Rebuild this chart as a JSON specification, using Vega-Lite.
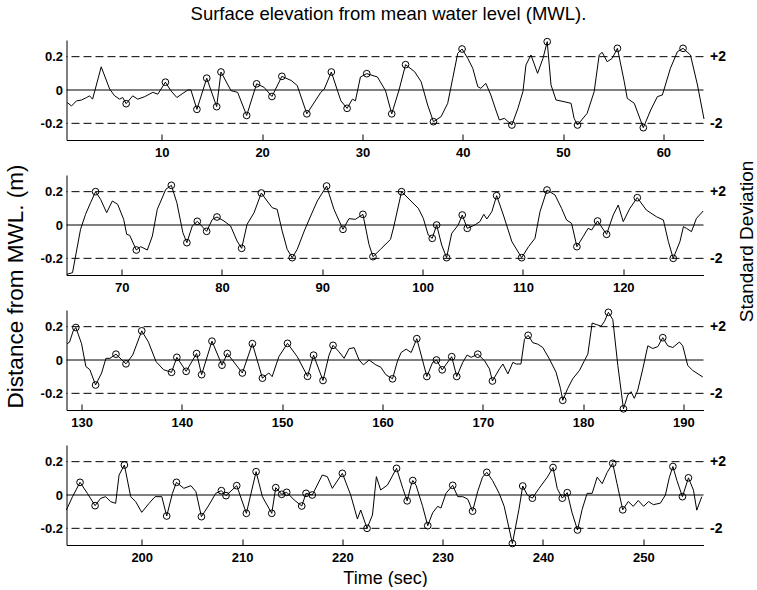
{
  "$schema": "https://vega.github.io/schema/vega-lite/v6.json",
  "background": "white",
  "padding": {"left": 3.5, "top": 4, "right": 0, "bottom": 0},
  "title": {"text": "Surface elevation from mean water level (MWL).", "fontSize": 18.5, "fontWeight": "normal", "font": "Liberation Sans", "anchor": "middle", "offset": 13, "dx": 8, "color": "black"},
  "config": {
    "font": "Liberation Sans",
    "view": {"stroke": null},
    "axis": {"domainColor": "black", "tickColor": "black", "labelColor": "black", "titleColor": "black", "grid": false, "labelFont": "Liberation Sans", "titleFont": "Liberation Sans", "labelFontSize": 13, "labelFontWeight": "bold", "titleFontWeight": "normal"}
  },
  "datasets": {
    "p1": [
      {"t":0.58,"v":-0.075},{"t":1.0,"v":-0.096},{"t":1.5,"v":-0.065},{"t":2.0,"v":-0.06},{"t":2.5,"v":-0.045},{"t":2.8,"v":-0.035},{"t":3.1,"v":-0.055},{"t":3.96,"v":0.139},{"t":4.8,"v":0.006},{"t":5.3,"v":-0.035},{"t":5.8,"v":-0.055},{"t":6.1,"v":-0.045},{"t":6.45,"v":-0.082,"c":1},{"t":7.1,"v":-0.035},{"t":7.6,"v":-0.055},{"t":8.3,"v":-0.04},{"t":9.1,"v":-0.014},{"t":9.6,"v":-0.025},{"t":10.36,"v":0.047,"c":1},{"t":10.9,"v":-0.004},{"t":11.5,"v":-0.045},{"t":12.1,"v":-0.02},{"t":12.6,"v":0.0},{"t":12.9,"v":0.0},{"t":13.5,"v":-0.116,"c":1},{"t":14.48,"v":0.071,"c":1},{"t":15.47,"v":-0.1,"c":1},{"t":15.9,"v":0.108,"c":1},{"t":16.9,"v":-0.004},{"t":17.56,"v":-0.014},{"t":18.46,"v":-0.153,"c":1},{"t":19.45,"v":0.037,"c":1},{"t":20.2,"v":0.016},{"t":20.98,"v":-0.039,"c":1},{"t":21.97,"v":0.082,"c":1},{"t":22.9,"v":0.057},{"t":23.5,"v":0.027},{"t":24.46,"v":-0.143,"c":1},{"t":25.85,"v":-0.014},{"t":26.2,"v":0.006},{"t":26.9,"v":0.108,"c":1},{"t":27.85,"v":-0.065},{"t":28.47,"v":-0.11,"c":1},{"t":29.0,"v":-0.055},{"t":29.3,"v":-0.065},{"t":29.8,"v":0.078},{"t":30.43,"v":0.098,"c":1},{"t":31.5,"v":0.078},{"t":32.3,"v":-0.004},{"t":32.92,"v":-0.143,"c":1},{"t":33.65,"v":0.0},{"t":34.3,"v":0.152,"c":1},{"t":35.2,"v":0.11},{"t":35.85,"v":0.05},{"t":36.5,"v":-0.09},{"t":37.08,"v":-0.19,"c":1},{"t":37.84,"v":-0.16},{"t":38.5,"v":-0.08},{"t":39.0,"v":0.07},{"t":39.5,"v":0.22},{"t":39.93,"v":0.246,"c":1},{"t":40.5,"v":0.19},{"t":41.0,"v":0.13},{"t":41.5,"v":0.02},{"t":41.8,"v":0.01},{"t":42.3,"v":0.04},{"t":42.8,"v":-0.03},{"t":43.3,"v":-0.12},{"t":43.65,"v":-0.18},{"t":44.15,"v":-0.17},{"t":44.9,"v":-0.21,"c":1},{"t":45.5,"v":-0.11},{"t":46.0,"v":-0.01},{"t":46.3,"v":0.15},{"t":46.8,"v":0.21},{"t":47.46,"v":0.1},{"t":48.0,"v":0.19},{"t":48.42,"v":0.29,"c":1},{"t":48.8,"v":0.03},{"t":49.3,"v":-0.06},{"t":50.1,"v":-0.07},{"t":50.8,"v":-0.08},{"t":51.1,"v":-0.17},{"t":51.44,"v":-0.21,"c":1},{"t":52.4,"v":-0.14},{"t":53.1,"v":-0.01},{"t":53.6,"v":0.21},{"t":53.9,"v":0.226},{"t":54.4,"v":0.17},{"t":54.9,"v":0.19},{"t":55.42,"v":0.25,"c":1},{"t":56.1,"v":0.05},{"t":56.4,"v":-0.05},{"t":57.1,"v":-0.08},{"t":58.0,"v":-0.226,"c":1},{"t":58.74,"v":-0.12},{"t":59.4,"v":-0.04},{"t":59.9,"v":-0.03},{"t":60.7,"v":0.13},{"t":61.4,"v":0.23},{"t":61.96,"v":0.25,"c":1},{"t":62.7,"v":0.21},{"t":63.4,"v":0.03},{"t":64.05,"v":-0.174}
    ],
    "p2": [
      {"t":64.52,"v":-0.296},{"t":65.1,"v":-0.286},{"t":65.9,"v":-0.026},{"t":66.4,"v":0.064},{"t":66.9,"v":0.134},{"t":67.4,"v":0.2,"c":1},{"t":67.9,"v":0.154},{"t":68.5,"v":0.074},{"t":69.07,"v":0.144},{"t":69.6,"v":0.124},{"t":70.2,"v":0.034},{"t":70.5,"v":-0.056},{"t":70.8,"v":-0.062},{"t":71.46,"v":-0.15,"c":1},{"t":71.9,"v":-0.13},{"t":72.56,"v":-0.15},{"t":73.06,"v":-0.066},{"t":73.55,"v":0.094},{"t":74.4,"v":0.214},{"t":74.95,"v":0.238,"c":1},{"t":75.5,"v":0.134},{"t":76.1,"v":-0.046},{"t":76.5,"v":-0.106,"c":1},{"t":77.04,"v":-0.006},{"t":77.54,"v":0.022,"c":1},{"t":78.47,"v":-0.038,"c":1},{"t":79.04,"v":0.034},{"t":79.5,"v":0.048,"c":1},{"t":80.2,"v":0.024},{"t":80.86,"v":-0.006},{"t":81.5,"v":-0.096},{"t":81.96,"v":-0.14,"c":1},{"t":82.5,"v":0.004},{"t":83.2,"v":0.074},{"t":83.92,"v":0.192,"c":1},{"t":84.5,"v":0.144},{"t":85.0,"v":0.104},{"t":85.5,"v":0.094},{"t":86.0,"v":-0.036},{"t":86.5,"v":-0.146},{"t":87.0,"v":-0.196,"c":1},{"t":87.5,"v":-0.146},{"t":88.2,"v":-0.036},{"t":88.84,"v":0.054},{"t":89.5,"v":0.144},{"t":90.43,"v":0.234,"c":1},{"t":91.16,"v":0.094},{"t":92.06,"v":-0.026,"c":1},{"t":92.66,"v":0.038},{"t":93.3,"v":0.034},{"t":94.05,"v":0.064,"c":1},{"t":94.65,"v":-0.116},{"t":95.05,"v":-0.19,"c":1},{"t":95.8,"v":-0.146},{"t":96.8,"v":-0.086},{"t":97.14,"v":-0.006},{"t":97.9,"v":0.2,"c":1},{"t":98.74,"v":0.15},{"t":99.57,"v":0.1},{"t":100.07,"v":0.04},{"t":100.56,"v":-0.06},{"t":100.96,"v":-0.08,"c":1},{"t":101.4,"v":0.0,"c":1},{"t":101.9,"v":-0.12},{"t":102.39,"v":-0.196,"c":1},{"t":102.9,"v":-0.05},{"t":103.55,"v":0.0},{"t":103.95,"v":0.06,"c":1},{"t":104.45,"v":-0.02,"c":1},{"t":105.2,"v":0.0},{"t":105.7,"v":0.02},{"t":106.1,"v":0.064},{"t":106.4,"v":0.036},{"t":106.9,"v":0.08},{"t":107.38,"v":0.176,"c":1},{"t":108.05,"v":0.06},{"t":108.9,"v":-0.1},{"t":109.87,"v":-0.196,"c":1},{"t":110.56,"v":-0.13},{"t":111.2,"v":-0.08},{"t":111.7,"v":0.08},{"t":112.4,"v":0.21,"c":1},{"t":113.2,"v":0.18},{"t":113.85,"v":0.1},{"t":114.35,"v":0.03},{"t":114.85,"v":0.01},{"t":115.38,"v":-0.13,"c":1},{"t":116.0,"v":-0.07},{"t":116.5,"v":-0.02},{"t":116.84,"v":-0.03},{"t":117.44,"v":0.024,"c":1},{"t":118.34,"v":-0.056,"c":1},{"t":119.0,"v":0.06},{"t":119.5,"v":0.12},{"t":120.0,"v":0.02},{"t":120.66,"v":0.1},{"t":121.4,"v":0.164,"c":1},{"t":122.3,"v":0.09},{"t":123.3,"v":0.05},{"t":124.0,"v":0.03},{"t":124.5,"v":-0.1},{"t":124.98,"v":-0.2,"c":1},{"t":125.65,"v":-0.1},{"t":126.0,"v":-0.01},{"t":126.3,"v":-0.02},{"t":126.8,"v":-0.04},{"t":127.3,"v":0.04},{"t":127.97,"v":0.084}
    ],
    "p3": [
      {"t":128.57,"v":0.098},{"t":128.8,"v":0.107},{"t":129.17,"v":0.175},{"t":129.43,"v":0.195,"c":1},{"t":130.0,"v":0.098},{"t":130.43,"v":-0.039},{"t":130.83,"v":-0.058},{"t":131.4,"v":-0.15,"c":1},{"t":132.0,"v":-0.078},{"t":132.43,"v":0.01},{"t":132.83,"v":0.01},{"t":133.43,"v":0.035,"c":1},{"t":134.43,"v":-0.023,"c":1},{"t":135.1,"v":0.03},{"t":136.0,"v":0.175,"c":1},{"t":136.67,"v":0.107},{"t":137.43,"v":-0.01},{"t":138.17,"v":-0.058},{"t":138.97,"v":-0.074,"c":1},{"t":139.5,"v":0.016,"c":1},{"t":140.43,"v":-0.068,"c":1},{"t":141.47,"v":0.039,"c":1},{"t":141.97,"v":-0.088,"c":1},{"t":143.0,"v":0.113,"c":1},{"t":144.0,"v":-0.031,"c":1},{"t":144.53,"v":0.039,"c":1},{"t":146.03,"v":-0.078,"c":1},{"t":147.03,"v":0.098,"c":1},{"t":148.03,"v":-0.109,"c":1},{"t":148.67,"v":-0.078},{"t":149.0,"v":-0.1},{"t":149.67,"v":0.02},{"t":150.53,"v":0.1,"c":1},{"t":151.5,"v":0.02},{"t":152.53,"v":-0.098,"c":1},{"t":153.13,"v":0.029,"c":1},{"t":154.07,"v":-0.123,"c":1},{"t":154.67,"v":0.029},{"t":155.07,"v":0.088,"c":1},{"t":155.67,"v":0.049},{"t":156.17,"v":0.01},{"t":156.67,"v":0.068},{"t":157.17,"v":0.074},{"t":157.67,"v":0.0},{"t":158.1,"v":-0.029},{"t":158.67,"v":0.0},{"t":159.33,"v":-0.029},{"t":159.83,"v":-0.043},{"t":160.33,"v":-0.088},{"t":161.0,"v":-0.113,"c":1},{"t":161.5,"v":-0.005},{"t":161.86,"v":0.045},{"t":162.36,"v":0.065},{"t":162.86,"v":0.045},{"t":163.42,"v":0.128,"c":1},{"t":164.42,"v":-0.099,"c":1},{"t":165.0,"v":-0.014},{"t":165.38,"v":0.0,"c":1},{"t":165.95,"v":-0.059,"c":1},{"t":166.9,"v":0.02,"c":1},{"t":167.4,"v":-0.099,"c":1},{"t":168.0,"v":-0.014},{"t":168.44,"v":0.03},{"t":168.84,"v":0.016},{"t":169.5,"v":0.035,"c":1},{"t":170.17,"v":-0.004},{"t":170.66,"v":-0.053},{"t":170.96,"v":-0.126,"c":1},{"t":171.66,"v":-0.053},{"t":172.0,"v":-0.024},{"t":172.5,"v":-0.083},{"t":173.0,"v":-0.014},{"t":173.32,"v":-0.024},{"t":173.8,"v":-0.024},{"t":174.15,"v":0.124},{"t":174.52,"v":0.148,"c":1},{"t":174.98,"v":0.104},{"t":175.48,"v":0.095},{"t":175.98,"v":0.075},{"t":176.64,"v":0.006},{"t":177.3,"v":-0.073},{"t":177.74,"v":-0.17},{"t":177.97,"v":-0.242,"c":1},{"t":178.47,"v":-0.17},{"t":178.97,"v":-0.112},{"t":179.63,"v":-0.063},{"t":180.13,"v":-0.004},{"t":180.47,"v":0.035},{"t":180.9,"v":0.222},{"t":181.3,"v":0.213},{"t":181.8,"v":0.203},{"t":182.13,"v":0.232},{"t":182.52,"v":0.286,"c":1},{"t":182.96,"v":0.242},{"t":183.46,"v":-0.033},{"t":184.02,"v":-0.293,"c":1},{"t":184.45,"v":-0.21},{"t":184.78,"v":-0.19},{"t":185.1,"v":-0.23},{"t":185.45,"v":-0.18},{"t":185.95,"v":-0.053},{"t":186.45,"v":0.085},{"t":186.94,"v":0.069},{"t":187.44,"v":0.08},{"t":187.94,"v":0.134,"c":1},{"t":188.44,"v":0.085},{"t":188.94,"v":0.075},{"t":189.6,"v":0.108},{"t":189.93,"v":0.085},{"t":190.43,"v":-0.033},{"t":190.93,"v":-0.063},{"t":191.93,"v":-0.102}
    ],
    "p4": [
      {"t":192.49,"v":-0.09},{"t":193.1,"v":-0.01},{"t":193.85,"v":0.076,"c":1},{"t":194.58,"v":0.01},{"t":195.35,"v":-0.064,"c":1},{"t":195.9,"v":-0.02},{"t":196.4,"v":-0.01},{"t":196.9,"v":-0.04},{"t":197.4,"v":-0.05},{"t":197.74,"v":0.12},{"t":198.27,"v":0.18,"c":1},{"t":198.9,"v":-0.01},{"t":199.4,"v":-0.04},{"t":200.0,"v":-0.104},{"t":200.73,"v":-0.05},{"t":201.33,"v":-0.01},{"t":202.0,"v":-0.01},{"t":202.49,"v":-0.126,"c":1},{"t":203.06,"v":0.01},{"t":203.46,"v":0.076,"c":1},{"t":204.2,"v":0.04},{"t":204.9,"v":0.056},{"t":205.4,"v":0.02},{"t":205.95,"v":-0.13,"c":1},{"t":206.7,"v":-0.06},{"t":207.38,"v":0.01},{"t":207.94,"v":0.026,"c":1},{"t":208.4,"v":-0.004,"c":1},{"t":209.47,"v":0.056,"c":1},{"t":210.43,"v":-0.11,"c":1},{"t":211.4,"v":0.14,"c":1},{"t":212.03,"v":-0.01},{"t":212.96,"v":-0.11,"c":1},{"t":213.36,"v":0.044,"c":1},{"t":213.95,"v":0.004,"c":1},{"t":214.45,"v":0.016,"c":1},{"t":215.2,"v":-0.03},{"t":215.95,"v":-0.066,"c":1},{"t":216.38,"v":0.01,"c":1},{"t":217.0,"v":0.0,"c":1},{"t":218.0,"v":0.12},{"t":218.5,"v":0.11},{"t":219.0,"v":0.04},{"t":220.0,"v":0.13,"c":1},{"t":220.83,"v":0.0},{"t":221.5,"v":-0.144},{"t":221.83,"v":-0.09},{"t":222.46,"v":-0.2,"c":1},{"t":223.0,"v":-0.12},{"t":223.39,"v":0.11},{"t":223.82,"v":0.03},{"t":224.5,"v":0.06},{"t":225.4,"v":0.16,"c":1},{"t":226.03,"v":0.039},{"t":226.46,"v":-0.035,"c":1},{"t":226.85,"v":0.058},{"t":227.02,"v":0.087,"c":1},{"t":227.35,"v":0.058},{"t":228.0,"v":-0.068},{"t":228.51,"v":-0.184,"c":1},{"t":229.0,"v":-0.107},{"t":229.5,"v":-0.068},{"t":229.83,"v":-0.078},{"t":230.33,"v":0.01},{"t":231.0,"v":0.058,"c":1},{"t":231.5,"v":-0.01},{"t":232.0,"v":-0.01},{"t":232.5,"v":-0.025},{"t":232.98,"v":-0.097,"c":1},{"t":233.48,"v":0.019},{"t":233.97,"v":0.107},{"t":234.4,"v":0.136,"c":1},{"t":234.97,"v":0.087},{"t":235.63,"v":0.01},{"t":236.13,"v":-0.068},{"t":236.95,"v":-0.291,"c":1},{"t":237.6,"v":-0.087},{"t":237.98,"v":0.054,"c":1},{"t":238.44,"v":0.0},{"t":238.94,"v":-0.019,"c":1},{"t":239.6,"v":0.039},{"t":240.43,"v":0.107},{"t":241.0,"v":0.165,"c":1},{"t":241.42,"v":0.039},{"t":241.92,"v":-0.019,"c":1},{"t":242.42,"v":0.014,"c":1},{"t":242.9,"v":-0.107},{"t":243.44,"v":-0.21,"c":1},{"t":243.9,"v":-0.087},{"t":244.4,"v":0.01},{"t":244.9,"v":0.01},{"t":245.4,"v":0.107},{"t":245.9,"v":0.068},{"t":246.4,"v":0.136},{"t":246.95,"v":0.19,"c":1},{"t":247.38,"v":0.068},{"t":247.95,"v":-0.089,"c":1},{"t":248.5,"v":-0.039},{"t":249.0,"v":-0.068},{"t":249.5,"v":-0.033},{"t":250.03,"v":-0.068},{"t":250.53,"v":-0.039},{"t":251.0,"v":-0.058},{"t":251.7,"v":-0.049},{"t":252.2,"v":0.0},{"t":252.6,"v":0.107},{"t":252.95,"v":0.171,"c":1},{"t":253.35,"v":0.087},{"t":253.9,"v":-0.01,"c":1},{"t":254.5,"v":0.103,"c":1},{"t":255.0,"v":0.029},{"t":255.33,"v":-0.091},{"t":255.83,"v":-0.01}
    ],
    "zero": [{"z": 0}],
    "sd": [{"s": 0.2}, {"s": -0.2}]
  },
  "bounds": "flush",
  "spacing": 35,
  "vconcat": [
    {
      "width": 637, "height": 100,
      "resolve": {"scale": {"y": "independent"}, "axis": {"y": "independent"}},
      "layer": [
        {
          "data": {"name": "p1"},
          "layer": [
            {"mark": {"type": "line", "color": "black", "strokeWidth": 1},
             "encoding": {
               "x": {"field": "t", "type": "quantitative", "scale": {"domain": [0.5, 64], "nice": false, "zero": false}, "axis": {"title": null, "values": [10,20,30,40,50,60], "tickSize": -6, "labelPadding": 12, "domain": true}},
               "y": {"field": "v", "type": "quantitative", "scale": {"domain": [-0.3, 0.3], "nice": false}, "axis": {"title": null, "values": [-0.2, 0, 0.2], "ticks": false, "labelPadding": 4, "labelExpr": "datum.value == 0 ? '0' : (datum.value > 0 ? '0.2' : '-0.2')"}}}},
            {"transform": [{"filter": "datum.c == 1"}],
             "mark": {"type": "point", "shape": "circle", "filled": false, "color": "black", "size": 45, "strokeWidth": 1, "opacity": 1},
             "encoding": {"x": {"field": "t", "type": "quantitative"}, "y": {"field": "v", "type": "quantitative"}}},
            {"data": {"name": "zero"}, "mark": {"type": "rule", "color": "black", "strokeWidth": 1},
             "encoding": {"y": {"field": "z", "type": "quantitative"}}}
          ]
        },
        {"data": {"name": "sd"}, "mark": {"type": "rule", "color": "black", "strokeWidth": 1, "strokeDash": [8, 4]},
         "encoding": {"y": {"field": "s", "type": "quantitative", "scale": {"domain": [-0.3, 0.3], "nice": false}, "axis": {"orient": "right", "title": null, "values": [-0.2, 0.2], "domain": false, "ticks": false, "labelPadding": 6, "labelFontSize": 14, "labelExpr": "datum.value > 0 ? '+2' : '-2'"}}}}
      ]
    },
    {
      "width": 637, "height": 100,
      "resolve": {"scale": {"y": "independent"}, "axis": {"y": "independent"}},
      "layer": [
        {
          "data": {"name": "p2"},
          "layer": [
            {"mark": {"type": "line", "color": "black", "strokeWidth": 1},
             "encoding": {
               "x": {"field": "t", "type": "quantitative", "scale": {"domain": [64.5, 128], "nice": false, "zero": false}, "axis": {"title": null, "values": [70,80,90,100,110,120], "tickSize": -6, "labelPadding": 12, "domain": true}},
               "y": {"field": "v", "type": "quantitative", "scale": {"domain": [-0.3, 0.3], "nice": false}, "axis": {"title": "Distance from MWL. (m)", "titleFontSize": 22.5, "titleAngle": 270, "titleX": -51, "titleY": 111, "titleAlign": "center", "titleBaseline": "middle", "values": [-0.2, 0, 0.2], "ticks": false, "labelPadding": 4, "labelExpr": "datum.value == 0 ? '0' : (datum.value > 0 ? '0.2' : '-0.2')"}}}},
            {"transform": [{"filter": "datum.c == 1"}],
             "mark": {"type": "point", "shape": "circle", "filled": false, "color": "black", "size": 45, "strokeWidth": 1, "opacity": 1},
             "encoding": {"x": {"field": "t", "type": "quantitative"}, "y": {"field": "v", "type": "quantitative"}}},
            {"data": {"name": "zero"}, "mark": {"type": "rule", "color": "black", "strokeWidth": 1},
             "encoding": {"y": {"field": "z", "type": "quantitative"}}}
          ]
        },
        {"data": {"name": "sd"}, "mark": {"type": "rule", "color": "black", "strokeWidth": 1, "strokeDash": [8, 4]},
         "encoding": {"y": {"field": "s", "type": "quantitative", "scale": {"domain": [-0.3, 0.3], "nice": false}, "axis": {"orient": "right", "title": "Standard Deviation", "titleFontSize": 19, "titleAngle": 270, "titleX": 43, "titleY": 66, "titleAlign": "center", "titleBaseline": "middle", "values": [-0.2, 0.2], "domain": false, "ticks": false, "labelPadding": 6, "labelFontSize": 14, "labelExpr": "datum.value > 0 ? '+2' : '-2'"}}}}
      ]
    },
    {
      "width": 637, "height": 100,
      "resolve": {"scale": {"y": "independent"}, "axis": {"y": "independent"}},
      "layer": [
        {
          "data": {"name": "p3"},
          "layer": [
            {"mark": {"type": "line", "color": "black", "strokeWidth": 1},
             "encoding": {
               "x": {"field": "t", "type": "quantitative", "scale": {"domain": [128.5, 192], "nice": false, "zero": false}, "axis": {"title": null, "values": [130,140,150,160,170,180,190], "tickSize": -6, "labelPadding": 12, "domain": true}},
               "y": {"field": "v", "type": "quantitative", "scale": {"domain": [-0.3, 0.3], "nice": false}, "axis": {"title": null, "values": [-0.2, 0, 0.2], "ticks": false, "labelPadding": 4, "labelExpr": "datum.value == 0 ? '0' : (datum.value > 0 ? '0.2' : '-0.2')"}}}},
            {"transform": [{"filter": "datum.c == 1"}],
             "mark": {"type": "point", "shape": "circle", "filled": false, "color": "black", "size": 45, "strokeWidth": 1, "opacity": 1},
             "encoding": {"x": {"field": "t", "type": "quantitative"}, "y": {"field": "v", "type": "quantitative"}}},
            {"data": {"name": "zero"}, "mark": {"type": "rule", "color": "black", "strokeWidth": 1},
             "encoding": {"y": {"field": "z", "type": "quantitative"}}}
          ]
        },
        {"data": {"name": "sd"}, "mark": {"type": "rule", "color": "black", "strokeWidth": 1, "strokeDash": [8, 4]},
         "encoding": {"y": {"field": "s", "type": "quantitative", "scale": {"domain": [-0.3, 0.3], "nice": false}, "axis": {"orient": "right", "title": null, "values": [-0.2, 0.2], "domain": false, "ticks": false, "labelPadding": 6, "labelFontSize": 14, "labelExpr": "datum.value > 0 ? '+2' : '-2'"}}}}
      ]
    },
    {
      "width": 637, "height": 100,
      "resolve": {"scale": {"y": "independent"}, "axis": {"y": "independent"}},
      "layer": [
        {
          "data": {"name": "p4"},
          "layer": [
            {"mark": {"type": "line", "color": "black", "strokeWidth": 1},
             "encoding": {
               "x": {"field": "t", "type": "quantitative", "scale": {"domain": [192.5, 256], "nice": false, "zero": false}, "axis": {"title": "Time (sec)", "titleFontSize": 18, "titlePadding": 5, "values": [200,210,220,230,240,250], "tickSize": -6, "labelPadding": 12, "domain": true}},
               "y": {"field": "v", "type": "quantitative", "scale": {"domain": [-0.3, 0.3], "nice": false}, "axis": {"title": null, "values": [-0.2, 0, 0.2], "ticks": false, "labelPadding": 4, "labelExpr": "datum.value == 0 ? '0' : (datum.value > 0 ? '0.2' : '-0.2')"}}}},
            {"transform": [{"filter": "datum.c == 1"}],
             "mark": {"type": "point", "shape": "circle", "filled": false, "color": "black", "size": 45, "strokeWidth": 1, "opacity": 1},
             "encoding": {"x": {"field": "t", "type": "quantitative"}, "y": {"field": "v", "type": "quantitative"}}},
            {"data": {"name": "zero"}, "mark": {"type": "rule", "color": "black", "strokeWidth": 1},
             "encoding": {"y": {"field": "z", "type": "quantitative"}}}
          ]
        },
        {"data": {"name": "sd"}, "mark": {"type": "rule", "color": "black", "strokeWidth": 1, "strokeDash": [8, 4]},
         "encoding": {"y": {"field": "s", "type": "quantitative", "scale": {"domain": [-0.3, 0.3], "nice": false}, "axis": {"orient": "right", "title": null, "values": [-0.2, 0.2], "domain": false, "ticks": false, "labelPadding": 6, "labelFontSize": 14, "labelExpr": "datum.value > 0 ? '+2' : '-2'"}}}}
      ]
    }
  ]
}
